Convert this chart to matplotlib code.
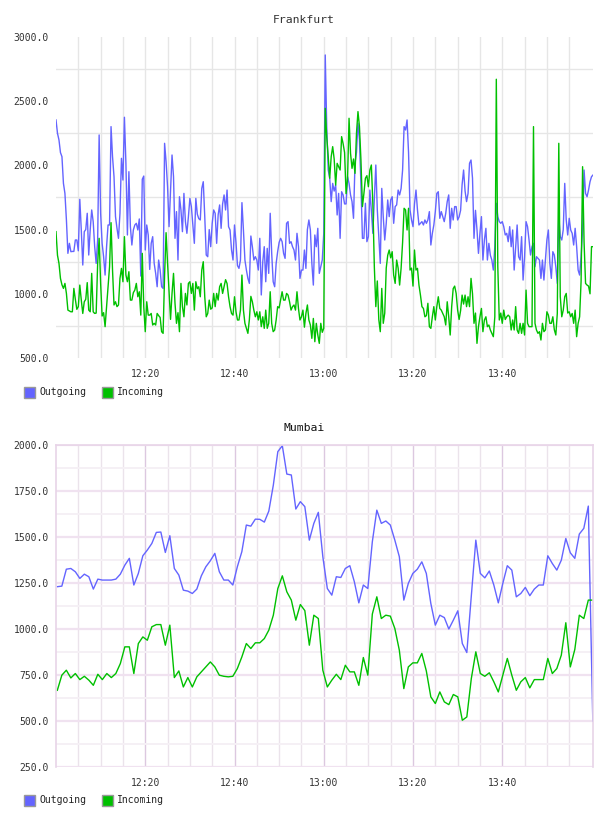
import numpy as np
import matplotlib
matplotlib.use("Agg")
import matplotlib.pyplot as plt
from matplotlib.patches import Rectangle

# Frankfurt: one sample every 20 s starting 12:00
out_fra = [
    2354, 2250, 2198, 2100, 2068, 1860, 1782, 1575, 1315, 1393, 1328, 1330, 1330, 1419, 1419,
    1335, 1736, 1497, 1224, 1484, 1500, 1627, 1302, 1500, 1653, 1562, 1367, 1237, 1419, 2237,
    1627, 1393, 1289, 1146, 1367, 1536, 1536, 2302, 2068, 1912, 1601, 1510, 1432, 1627, 2055,
    1886, 2375, 2016, 1458, 1951, 1523, 1380, 1497, 1536, 1549, 1497, 1583, 1138, 1892, 1917,
    1341, 1536, 1458, 1190, 1393, 1445, 1237, 1159, 1055, 1263, 1185, 1055, 1042, 2172, 2029,
    1834, 1523, 1808, 2081, 1912, 1432, 1640, 1263, 1756, 1653, 1484, 1782, 1562, 1471, 1600,
    1743, 1679, 1536, 1393, 1743, 1620, 1585, 1575, 1821, 1873, 1601, 1302, 1289, 1500, 1367,
    1549, 1653, 1627, 1393, 1614, 1692, 1510, 1700, 1770, 1653, 1808, 1523, 1497, 1341, 1263,
    1536, 1400, 1220, 1198, 1263, 1710, 1497, 1263, 1185, 1120, 1081, 1450, 1367, 1263, 1289,
    1263, 1185, 1432, 991, 1250, 1367, 1094, 1354, 1159, 1627, 1315, 1094, 1055, 1237, 1328,
    1400, 1432, 1406, 1315, 1276, 1549, 1562, 1393, 1406, 1367, 1341, 1263, 1471, 1367, 1120,
    1185, 1185, 1341, 1198, 1500, 1575, 1497, 1237, 1068, 1458, 1367, 1510, 1159, 1211, 1263,
    1471, 2860, 2300, 1964, 1900, 1718, 1860, 1800, 1847, 1614, 1782, 1432, 1795, 1770, 1700,
    1700, 1912, 1860, 1770, 1718, 1588, 2016, 2100, 2328, 2200, 1850, 1432, 1432, 1705, 1406,
    1445, 1808, 1650, 1471, 1731, 2003, 1653, 1445, 1237, 1821, 1600, 1419, 1549, 1731, 1601,
    1731, 1756, 1549, 1679, 1692, 1808, 1770, 1821, 1964, 2302, 2276, 2354, 2100, 1653, 1575,
    1523, 1700, 1808, 1653, 1536, 1549, 1562, 1536, 1575, 1549, 1575, 1640, 1380, 1471, 1536,
    1640, 1782, 1795, 1588, 1640, 1601, 1562, 1627, 1718, 1770, 1510, 1666, 1575, 1679, 1679,
    1575, 1600, 1650, 1850, 1964, 1800, 1718, 1782, 2016, 2042, 1900, 1432, 1650, 1500, 1315,
    1471, 1601, 1263, 1420, 1510, 1263, 1393, 1300, 1263, 1185, 1367, 1705, 1600, 1562, 1549,
    1562, 1523, 1458, 1471, 1406, 1523, 1367, 1497, 1185, 1367, 1536, 1289, 1263, 1445, 1107,
    1289, 1562, 1523, 1419, 1302, 1367, 1393, 1211, 1289, 1276, 1263, 1120, 1263, 1107, 1263,
    1419, 1497, 1237, 1120, 1328, 1302, 1211, 1081, 1601, 1445, 1419, 1500, 1860, 1575, 1458,
    1588, 1497, 1471, 1380, 1510, 1367, 1185, 1146, 1289, 1497, 1964, 1782, 1756, 1808, 1873,
    1912, 1925,
]
in_fra = [
    1484, 1300, 1237, 1120, 1070, 1042, 1081, 1003, 873, 866, 860, 860, 1042, 957, 879,
    900, 1068, 951, 847, 938, 957, 1087, 873, 860, 1159, 860, 847, 850, 1237, 1432,
    1081, 827, 853, 744, 900, 1055, 1211, 1554, 1185, 913, 938, 900, 913, 1120, 1198,
    1094, 1445, 1146, 1094, 1172, 951, 951, 1009, 1029, 1081, 977, 1016, 834, 1315, 900,
    705, 938, 834, 834, 847, 757, 770, 757, 847, 830, 816, 705, 692, 1146, 1476,
    1237, 1016, 801, 1003, 1159, 926, 770, 853, 705, 1081, 900, 821, 1003, 913, 1081,
    1094, 1003, 1081, 873, 1094, 1040, 1055, 977, 1185, 1250, 977, 821, 847, 951, 880,
    890, 1003, 900, 1003, 951, 1055, 1081, 1003, 1055, 1110, 1080, 977, 900, 847, 834,
    977, 860, 796, 796, 873, 1146, 873, 770, 731, 692, 800, 980, 938, 873, 821,
    860, 796, 860, 744, 821, 731, 873, 731, 770, 1016, 770, 705, 718, 796, 900,
    890, 951, 1016, 951, 951, 1003, 990, 938, 873, 900, 913, 873, 1016, 886, 796,
    821, 873, 740, 847, 913, 796, 757, 653, 808, 627, 770, 679, 614, 770, 700,
    731, 2445, 2220, 2068, 1900, 2068, 2146, 2050, 1847, 2016, 1990, 1964, 2224, 2170, 2100,
    1780, 1900, 2367, 2094, 1977, 2050, 1938, 2250, 2419, 2302, 2042, 1679, 1782, 1900, 1920,
    1834, 1964, 2003, 1705, 1211, 900, 1100, 800, 705, 1042, 770, 850, 1200, 1300, 1341,
    1280, 1328, 1146, 1081, 1263, 1200, 1068, 1200, 1400, 1666, 1653, 1497, 1666, 1185, 1200,
    1060, 1341, 1185, 1198, 1068, 990, 900, 886, 821, 830, 926, 744, 731, 821, 900,
    796, 900, 977, 886, 873, 847, 821, 757, 938, 821, 679, 900, 1040, 1060, 1003,
    873, 800, 870, 990, 920, 990, 900, 977, 900, 1120, 1000, 770, 850, 614, 744,
    821, 886, 705, 796, 821, 744, 757, 718, 692, 666, 821, 2671, 1211, 796, 850,
    770, 873, 800, 821, 834, 821, 718, 796, 718, 900, 718, 692, 770, 692, 770,
    679, 1029, 770, 744, 744, 744, 2302, 770, 718, 692, 705, 640, 770, 705, 718,
    860, 834, 770, 770, 821, 720, 679, 847, 2172, 977, 821, 873, 977, 1003, 850,
    860, 821, 847, 770, 873, 666, 770, 821, 1100, 1990, 1400, 1081, 1068, 1060, 1000,
    1367, 1367,
]

# Mumbai: one sample about every minute starting 12:00:18
out_mum = [
    1230, 1233, 1325, 1329, 1311, 1275, 1298, 1284, 1217, 1271,
    1266, 1266, 1266, 1271, 1298, 1347, 1384, 1239, 1302, 1398,
    1429, 1465, 1525, 1527, 1416, 1507, 1329, 1293, 1211, 1206,
    1193, 1217, 1289, 1338, 1371, 1411, 1311, 1266, 1266, 1239,
    1338, 1420, 1565, 1559, 1597, 1596, 1581, 1641, 1782, 1964,
    1996, 1842, 1837, 1652, 1692, 1665, 1483, 1574, 1634, 1393,
    1220, 1184, 1284, 1280, 1329, 1344, 1257, 1142, 1239, 1220,
    1474, 1646, 1574, 1587, 1565, 1483, 1393, 1157, 1248, 1302,
    1325, 1365, 1302, 1139, 1021, 1075, 1062, 1000, 1048, 1099,
    921, 872, 1180, 1483, 1302, 1278, 1315, 1239, 1142, 1248,
    1344, 1320, 1175, 1193, 1226, 1181, 1217, 1239, 1239, 1398,
    1356, 1320, 1374, 1492, 1414, 1384, 1516, 1547, 1668, 500,
]
in_mum = [
    667, 749, 776, 734, 758, 725, 743, 722, 694, 754,
    725, 758, 736, 758, 812, 903, 903, 758, 921, 957,
    939, 1012, 1024, 1024, 912, 1021, 736, 772, 685, 736,
    685, 740, 767, 794, 821, 794, 749, 743, 740, 743,
    785, 848, 921, 894, 925, 925, 948, 994, 1075, 1220,
    1289, 1202, 1157, 1048, 1133, 1100, 912, 1075, 1057, 776,
    685, 722, 754, 725, 803, 767, 767, 694, 845, 749,
    1081, 1175, 1057, 1075, 1070, 1003, 885, 676, 794, 816,
    816, 867, 772, 631, 595, 658, 604, 589, 644, 631,
    504, 522, 731, 876, 758, 743, 762, 713, 658, 749,
    840, 749, 667, 713, 736, 680, 725, 725, 725, 840,
    758, 785, 858, 1034, 794, 889, 1075, 1057, 1157, 1157,
]

tick_minutes = [20, 40, 60, 80, 100]
tick_labels = ["12:20", "12:40", "13:00", "13:20", "13:40"]
series_names = ["Outgoing", "Incoming"]

BLUE = "#6464ff"
GREEN = "#00c000"
MONO = "DejaVu Sans Mono"

fra_min = np.arange(len(out_fra)) * 20 / 60.0
mum_min = 0.3 + np.arange(len(out_mum)) * 60.5 / 60.0

W, H = 608, 816
fig = plt.figure(figsize=(W / 100, H / 100), dpi=100)


def axes_px(left, top, right, bottom):
    return fig.add_axes([left / W, 1 - bottom / H, (right - left) / W, (bottom - top) / H])


def legend(y):
    for x, color, name in [(24, BLUE, series_names[0]), (102, GREEN, series_names[1])]:
        fig.add_artist(Rectangle((x / W, 1 - (y + 6) / H), 11 / W, 11 / H,
                                 transform=fig.transFigure, facecolor=color,
                                 edgecolor="#999999", lw=1))
        fig.text((x + 15) / W, 1 - y / H, name, fontsize=7, family=MONO,
                 va="center", ha="left", color="#222222")


def common(ax, xmax):
    ax.set_xlim(0, xmax)
    ax.set_xticks(tick_minutes)
    ax.set_xticklabels(tick_labels)
    ax.set_xticks(np.arange(5, 120, 5), minor=True)
    ax.tick_params(which="both", length=0)
    ax.tick_params(axis="x", pad=8, labelsize=7, labelcolor="#333333")
    ax.tick_params(axis="y", pad=5, labelsize=7, labelcolor="#333333")
    for lab in ax.get_xticklabels() + ax.get_yticklabels():
        lab.set_family(MONO)
    ax.set_axisbelow(True)


# Frankfurt
ax1 = axes_px(56, 37, 593, 358)
ax1.plot(fra_min, out_fra, color=BLUE, lw=1.0)
ax1.plot(fra_min, in_fra, color=GREEN, lw=1.0)
ax1.set_ylim(500, 3000)
yt = np.arange(500, 3001, 500)
ax1.set_yticks(yt)
ax1.set_yticklabels([f"{v:.1f}" for v in yt])
ax1.set_yticks(np.arange(750, 3000, 500), minor=True)
common(ax1, fra_min[-1])
ax1.grid(axis="x", which="both", color="#e6e6e6", lw=1)
ax1.grid(axis="y", which="minor", color="#e6e6e6", lw=1)
for s in ax1.spines.values():
    s.set_visible(False)
fig.text(0.5, 1 - 20 / H, "Frankfurt", ha="center", va="center",
         fontsize=8.2, family=MONO, color="#333333")
legend(392)

# Mumbai
ax2 = axes_px(56, 445, 593, 767)
ax2.plot(mum_min, out_mum, color=BLUE, lw=1.0)
ax2.plot(mum_min, in_mum, color=GREEN, lw=1.0)
ax2.set_ylim(250, 2000)
yt2 = np.arange(250, 2001, 250)
ax2.set_yticks(yt2)
ax2.set_yticklabels([f"{v:.1f}" for v in yt2])
ax2.set_yticks(np.arange(375, 2000, 250), minor=True)
common(ax2, fra_min[-1])
ax2.grid(axis="x", which="major", color="#dcc8e0", lw=1)
ax2.grid(axis="x", which="minor", color="#ebe3eb", lw=1)
ax2.grid(axis="y", which="major", color="#f0e2f0", lw=1.6)
ax2.grid(axis="y", which="minor", color="#f5f0f5", lw=1.4)
for name, s in ax2.spines.items():
    s.set_color("#e8d4e8")
    s.set_linewidth(1.2)
ax2.spines["bottom"].set_visible(False)
fig.text(0.5, 1 - 428 / H, "Mumbai", ha="center", va="center",
         fontsize=8.2, family=MONO, color="#111111")
legend(800)

fig.savefig("out.png", dpi=100)
